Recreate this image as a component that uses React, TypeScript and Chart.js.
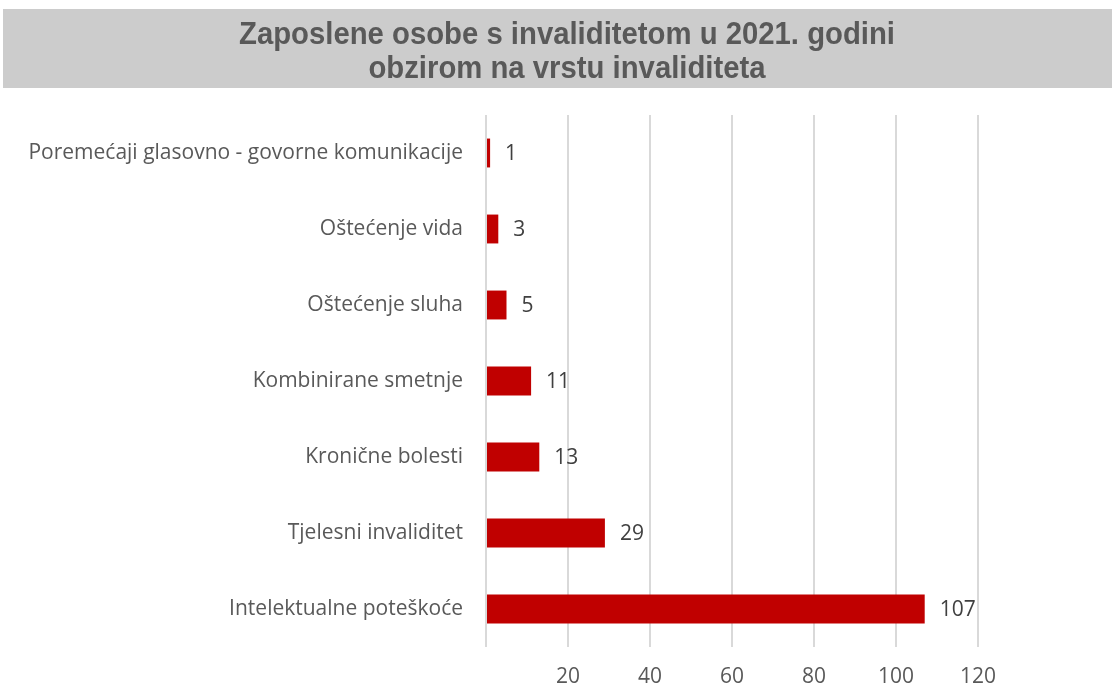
import React, { useEffect, useRef } from "react";
import { Chart, registerables } from "chart.js";

Chart.register(...registerables);

const titleLines = ["Zaposlene osobe s invaliditetom u 2021. godini", "obzirom na vrstu invaliditeta"];
const categories = [
  "Poremećaji glasovno - govorne komunikacije",
  "Oštećenje vida",
  "Oštećenje sluha",
  "Kombinirane smetnje",
  "Kronične bolesti",
  "Tjelesni invaliditet",
  "Intelektualne poteškoće",
];
const values = [1, 3, 5, 11, 13, 29, 107];
const axisMin = 0;
const axisMax = 120;
const axisStep = 20;

const LABEL_FONT = "'Open Sans', 'DejaVu Sans', sans-serif";

const bannerPlugin = {
  id: "banner",
  beforeDraw(chart: any) {
    const ctx = chart.ctx;
    ctx.save();
    ctx.fillStyle = "#cccccc";
    ctx.fillRect(3, 9, 1109, 79);
    ctx.fillStyle = "#595959";
    ctx.font = "bold 31px 'Liberation Sans Narrow', 'Liberation Sans', Arial, sans-serif";
    ctx.textAlign = "center";
    ctx.textBaseline = "alphabetic";
    const w = ctx.measureText(titleLines[0]).width;
    const s = 656 / w;
    const baselines = [44, 78];
    titleLines.forEach((line, i) => {
      ctx.save();
      ctx.translate(567, baselines[i]);
      ctx.scale(s, 1);
      ctx.fillText(line, 0, 0);
      ctx.restore();
    });
    ctx.restore();
  },
};

const valueLabelPlugin = {
  id: "valueLabels",
  afterDatasetsDraw(chart: any) {
    const ctx = chart.ctx;
    const meta = chart.getDatasetMeta(0);
    ctx.save();
    ctx.fillStyle = "#404040";
    ctx.font = "21px " + LABEL_FONT;
    ctx.textAlign = "left";
    ctx.textBaseline = "middle";
    meta.data.forEach((bar: any, i: number) => {
      ctx.fillText(String(values[i]), bar.x + 15, bar.y + 1);
    });
    ctx.restore();
  },
};

export default function App() {
  const ref = useRef<HTMLCanvasElement>(null);
  useEffect(() => {
    if (!ref.current) return;
    const chart = new Chart(ref.current, {
      type: "bar",
      data: {
        labels: categories,
        datasets: [
          {
            data: values,
            backgroundColor: "#c00000",
            borderWidth: 0,
            categoryPercentage: 1,
            barPercentage: 0.38,
          },
        ],
      },
      options: {
        indexAxis: "y",
        responsive: false,
        animation: false,
        layout: { padding: { top: 115, right: 134, left: 0, bottom: 0 } },
        plugins: {
          legend: { display: false },
          title: { display: false },
          tooltip: { enabled: false },
        },
        scales: {
          x: {
            min: axisMin,
            max: axisMax,
            ticks: {
              stepSize: axisStep,
              color: "#595959",
              font: { size: 21, family: LABEL_FONT },
              padding: 17,
              callback: (v: any) => (v === 0 ? "" : String(v)),
            },
            grid: { color: "#d9d9d9", lineWidth: 2, drawTicks: false },
            border: { display: false },
            afterFit: (scale: any) => {
              scale.height = 41;
            },
          },
          y: {
            ticks: {
              color: "#595959",
              font: { size: 21, family: LABEL_FONT },
              padding: 23,
            },
            grid: { display: false, drawTicks: false },
            border: { display: false },
            afterFit: (scale: any) => {
              scale.width = 486;
            },
          },
        },
      },
      plugins: [bannerPlugin, valueLabelPlugin],
    });
    return () => chart.destroy();
  }, []);
  return (
    <div style={{ width: 1112, height: 688 }}>
      <style>{"body{margin:0}"}</style>
      <canvas ref={ref} width={1112} height={688} style={{ display: "block" }} />
    </div>
  );
}
